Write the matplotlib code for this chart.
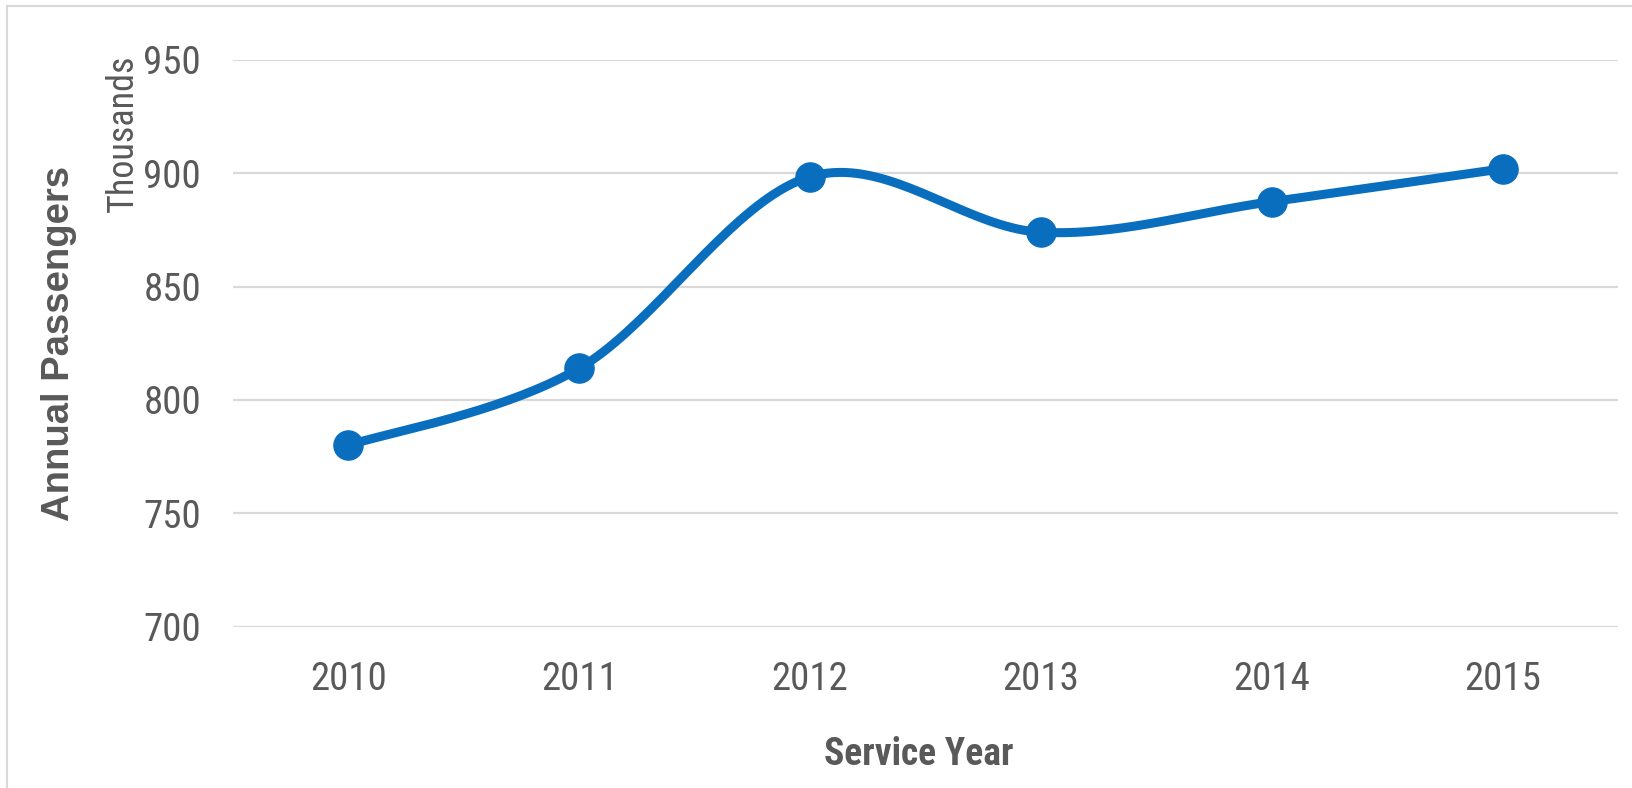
import matplotlib
matplotlib.use("Agg")
import matplotlib.pyplot as plt
from matplotlib.lines import Line2D
import numpy as np

years = ["2010", "2011", "2012", "2013", "2014", "2015"]
passengers = [780, 814, 898.5, 874, 887.5, 902]   # thousands
y_ticks = [700, 750, 800, 850, 900, 950]

blue = "#0a6ebf"
gray_text = "#595959"
grid_gray = "#d9d9d9"
narrow = ["Roboto Condensed", "Liberation Sans", "DejaVu Sans"]
wide = ["Liberation Sans", "DejaVu Sans"]


def smooth_line(xs, ys, steps=40):
    # catmull-rom style smoothing, like the spreadsheet "smoothed line"
    xs = np.asarray(xs, float)
    ys = np.asarray(ys, float)
    px = np.concatenate([[xs[0]], xs, [xs[-1]]])
    py = np.concatenate([[ys[0]], ys, [ys[-1]]])
    out_x, out_y = [], []
    t = np.linspace(0, 1, steps)
    for i in range(1, len(px) - 2):
        p0 = np.array([px[i], py[i]])
        p3 = np.array([px[i + 1], py[i + 1]])
        c1 = p0 + (np.array([px[i + 1], py[i + 1]]) - np.array([px[i - 1], py[i - 1]])) / 6
        c2 = p3 - (np.array([px[i + 2], py[i + 2]]) - np.array([px[i], py[i]])) / 6
        b = ((1 - t) ** 3)[:, None] * p0 + (3 * (1 - t) ** 2 * t)[:, None] * c1 \
            + (3 * (1 - t) * t ** 2)[:, None] * c2 + (t ** 3)[:, None] * p3
        out_x.extend(b[:, 0])
        out_y.extend(b[:, 1])
    return out_x, out_y


fig = plt.figure(figsize=(16.32, 7.88), dpi=100)
ax = fig.add_axes([0.1428, 0.2048, 0.8486, 0.7191])

x = np.arange(len(years))
sx, sy = smooth_line(x, passengers)
ax.plot(sx, sy, color=blue, lw=6.5, solid_capstyle="round", zorder=3)
ax.plot(x, passengers, "o", color=blue, markersize=21, zorder=4)

ax.set_xlim(-0.5, len(years) - 0.5)
ax.set_ylim(700, 950)
ax.set_yticks(y_ticks)
ax.set_xticks(x)
ax.set_xticklabels(years)
ax.grid(axis="y", color=grid_gray, lw=1.6)
ax.set_axisbelow(True)
for s in ax.spines.values():
    s.set_visible(False)
ax.tick_params(length=0, labelcolor=gray_text, labelsize=28)
ax.tick_params(axis="y", pad=23)
ax.tick_params(axis="x", pad=25)
for lab in ax.get_xticklabels() + ax.get_yticklabels():
    lab.set_family(narrow)

ax.set_ylabel("Annual Passengers", fontsize=27.5, fontweight="bold",
              color=gray_text, family=wide)
ax.yaxis.set_label_coords(-0.113, 0.5)
ax.set_xlabel("Service Year", fontsize=27, fontweight="bold",
              color=gray_text, family=narrow)
ax.xaxis.set_label_coords(0.495, -0.193)

fig.text(123 / 1632, 1 - 54 / 788, "Thousands", rotation=90, ha="center",
         va="top", fontsize=26, color=gray_text, family=narrow)

# light frame round the chart (left and top visible)
fig.add_artist(Line2D([7 / 1632, 7 / 1632], [0, 1 - 6 / 788],
                      transform=fig.transFigure, color=grid_gray, lw=1.5))
fig.add_artist(Line2D([7 / 1632, 1], [1 - 6 / 788, 1 - 6 / 788],
                      transform=fig.transFigure, color=grid_gray, lw=1.5))

fig.savefig("out.png", dpi=100)
